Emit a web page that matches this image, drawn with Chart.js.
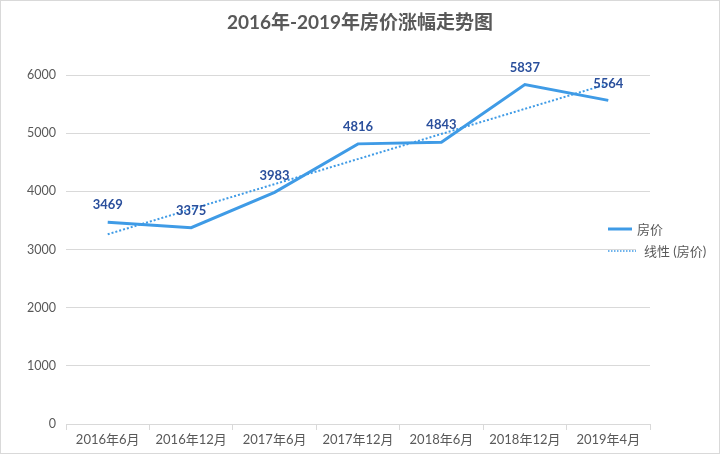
<!DOCTYPE html>
<html><head><meta charset="utf-8">
<script src="https://cdn.jsdelivr.net/npm/chart.js@4.4.0/dist/chart.umd.min.js"></script>
<style>
html,body{margin:0;padding:0;background:#fff;}
#wrap{position:relative;width:718px;height:452px;border:1px solid #d9d9d9;}
</style></head>
<body><div id="wrap"><canvas id="c" width="718" height="452"></canvas></div>
<script>
const titleText = '2016年-2019年房价涨幅走势图';
const categories = ['2016年6月','2016年12月','2017年6月','2017年12月','2018年6月','2018年12月','2019年4月'];
const priceLabel = '房价';
const prices = [3469, 3375, 3983, 4816, 4843, 5837, 5564];
const trendLabel = '线性 (房价)';
const trendValues = [3262, null, null, null, null, null, 5849];
const yTicks = [0, 1000, 2000, 3000, 4000, 5000, 6000];

const FONT = "Lato, 'Noto Sans CJK SC', sans-serif";
const lineColor = '#3f9be6';
const labelColor = '#2a4f9c';
const textGray = '#595959';

const overlay = {
  id: 'overlay',
  afterDatasetsDraw(chart) {
    const ctx = chart.ctx;
    const meta = chart.getDatasetMeta(0);
    ctx.save();
    ctx.font = "bold 13px " + FONT;
    ctx.fillStyle = labelColor;
    ctx.textAlign = 'center';
    ctx.textBaseline = 'middle';
    meta.data.forEach((pt, i) => {
      ctx.fillText(String(prices[i]), pt.x, pt.y - 17);
    });
    ctx.restore();
  },
  afterDraw(chart) {
    const ctx = chart.ctx;
    ctx.save();
    // title
    ctx.font = "bold 19px " + FONT;
    ctx.fillStyle = textGray;
    ctx.textAlign = 'center';
    ctx.textBaseline = 'middle';
    ctx.fillText(titleText, 359, 22);
    // legend
    ctx.fillStyle = '#fff';
    ctx.fillRect(635, 240, 83, 20);
    ctx.font = "13px " + FONT;
    ctx.textAlign = 'left';
    ctx.fillStyle = textGray;
    ctx.strokeStyle = lineColor;
    ctx.lineWidth = 3;
    ctx.beginPath(); ctx.moveTo(607, 228); ctx.lineTo(631, 228); ctx.stroke();
    ctx.fillText(priceLabel, 636, 229);
    ctx.lineWidth = 1.5;
    ctx.setLineDash([1.5, 1.5]);
    ctx.beginPath(); ctx.moveTo(607, 250); ctx.lineTo(635, 250); ctx.stroke();
    ctx.setLineDash([]);
    ctx.fillText(trendLabel, 643, 251);
    ctx.restore();
  }
};

new Chart(document.getElementById('c'), {
  type: 'line',
  data: {
    labels: categories,
    datasets: [
      { label: priceLabel, data: prices, borderColor: lineColor, borderWidth: 3, pointRadius: 0, tension: 0, fill: false },
      { label: trendLabel, data: trendValues, borderColor: lineColor, borderWidth: 2, borderDash: [2, 2], pointRadius: 0, spanGaps: true, fill: false }
    ]
  },
  options: {
    responsive: false,
    animation: false,
    devicePixelRatio: 1,
    layout: { padding: { left: 0, right: 69, top: 74, bottom: 0 } },
    plugins: { legend: { display: false }, title: { display: false }, tooltip: { enabled: false } },
    scales: {
      x: {
        type: 'category',
        offset: true,
        grid: { display: true, drawOnChartArea: false, drawTicks: true, tickLength: 6, color: '#d9d9d9', offset: true },
        border: { display: true, color: '#d9d9d9', width: 1 },
        ticks: { color: textGray, font: { family: FONT, size: 13 }, padding: 2, maxRotation: 0, autoSkip: false },
        afterFit(s) { s.height = 29; }
      },
      y: {
        min: 0, max: 6000,
        afterBuildTicks(s) { s.ticks = yTicks.map(v => ({ value: v })); },
        grid: { color: '#d9d9d9', drawTicks: false, lineWidth: 1 },
        border: { display: false },
        ticks: { color: textGray, font: { family: FONT, size: 12.5 }, padding: 10, callback: v => String(v) },
        afterFit(s) { s.width = 65; }
      }
    }
  },
  plugins: [overlay]
});
</script></body></html>
